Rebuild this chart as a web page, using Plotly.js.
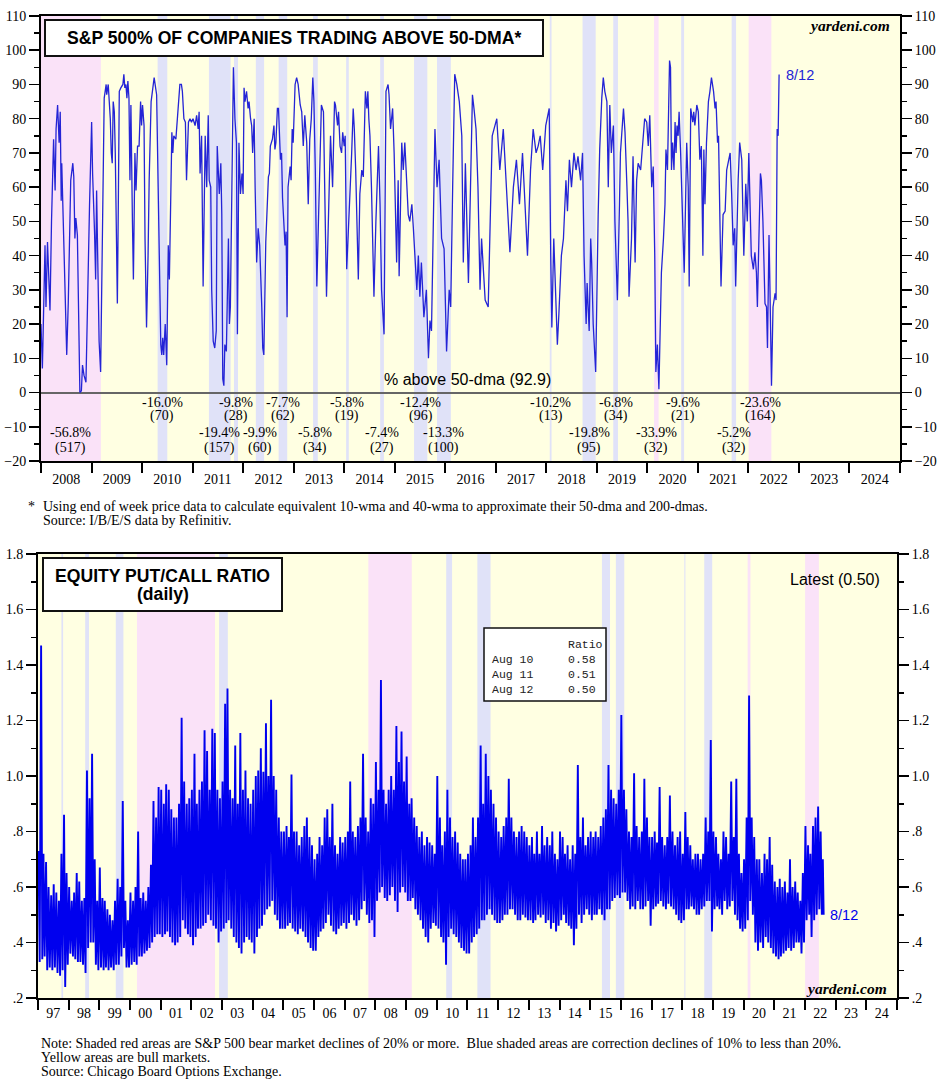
<!DOCTYPE html>
<html><head><meta charset="utf-8">
<script src="https://cdn.plot.ly/plotly-3.0.1.min.js"></script>
<style>html,body{margin:0;padding:0;background:#fff}#chart{width:948px;height:1083px}</style>
</head><body><div id="chart"></div>
<script>
// ---------------- DATA: S&P 500 % of companies above 50-dma (weekly, decimal years) ----------------
const spxYear = [
2008.00,2008.03,2008.08,2008.10,2008.13,2008.18,2008.21,2008.25,2008.28,2008.30,2008.33,2008.36,2008.38,2008.40,2008.41,2008.43,2008.46,2008.49,2008.51,2008.54,2008.57,2008.59,2008.63,2008.65,2008.67,2008.69,2008.72,2008.75,2008.77,2008.80,2008.82,2008.85,2008.89,2008.92,2008.94,2008.96,
2009.00,2009.02,2009.06,2009.08,2009.10,2009.12,2009.15,2009.18,2009.21,2009.23,2009.25,2009.29,2009.30,2009.33,2009.35,2009.37,2009.39,2009.41,2009.43,2009.45,2009.47,2009.50,2009.51,2009.53,2009.55,2009.58,2009.62,2009.64,2009.66,2009.68,2009.70,2009.72,2009.74,2009.76,2009.78,2009.81,2009.83,2009.86,2009.88,2009.91,2009.94,2009.97,2009.99,
2010.01,2010.04,2010.06,2010.09,2010.12,2010.14,2010.18,2010.21,2010.24,2010.26,2010.29,2010.32,2010.34,2010.37,2010.39,2010.41,2010.43,2010.46,2010.49,2010.52,2010.54,2010.57,2010.59,2010.61,2010.63,2010.67,2010.70,2010.72,2010.75,2010.78,2010.80,2010.83,2010.86,2010.88,2010.92,2010.95,2010.98,
2011.01,2011.05,2011.08,2011.11,2011.13,2011.15,2011.18,2011.21,2011.25,2011.28,2011.31,2011.33,2011.36,2011.38,2011.41,2011.44,2011.47,2011.49,2011.53,2011.56,2011.58,2011.60,2011.62,2011.64,2011.67,2011.71,2011.73,2011.75,2011.78,2011.81,2011.84,2011.87,2011.89,2011.92,2011.95,2011.98,
2012.00,2012.02,2012.04,2012.07,2012.10,2012.12,2012.15,2012.17,2012.19,2012.22,2012.24,2012.27,2012.30,2012.33,2012.37,2012.39,2012.41,2012.43,2012.45,2012.50,2012.52,2012.54,2012.58,2012.61,2012.63,2012.65,2012.68,2012.70,2012.72,2012.74,2012.76,2012.78,2012.83,2012.85,2012.87,2012.89,2012.93,2012.95,2012.97,2012.99,
2013.03,2013.06,2013.09,2013.13,2013.16,2013.19,2013.22,2013.24,2013.26,2013.29,2013.32,2013.35,2013.38,2013.40,2013.43,2013.46,2013.51,2013.55,2013.59,2013.61,2013.65,2013.71,2013.73,2013.77,2013.81,2013.83,2013.87,2013.89,2013.92,2013.95,2013.97,
2014.00,2014.02,2014.05,2014.12,2014.15,2014.18,2014.20,2014.23,2014.28,2014.31,2014.35,2014.38,2014.42,2014.45,2014.47,2014.49,2014.51,2014.54,2014.59,2014.63,2014.68,2014.71,2014.74,2014.79,2014.83,2014.87,2014.89,2014.92,2014.96,2014.99,
2015.04,2015.07,2015.09,2015.14,2015.17,2015.20,2015.24,2015.27,2015.30,2015.34,2015.37,2015.40,2015.44,2015.47,2015.50,2015.53,2015.58,2015.63,2015.67,2015.70,2015.73,2015.80,2015.84,2015.88,2015.93,2015.98,
2016.03,2016.08,2016.11,2016.15,2016.19,2016.23,2016.28,2016.33,2016.36,2016.40,2016.46,2016.50,2016.54,2016.57,2016.61,2016.65,2016.69,2016.72,2016.79,2016.85,2016.90,2016.93,
2017.02,2017.08,2017.15,2017.22,2017.28,2017.35,2017.41,2017.47,2017.53,2017.58,2017.63,2017.69,2017.74,2017.80,2017.84,2017.88,2017.93,2017.99,
2018.06,2018.09,2018.11,2018.15,2018.19,2018.22,2018.25,2018.30,2018.34,2018.39,2018.42,2018.46,2018.50,2018.55,2018.59,2018.63,2018.68,2018.72,2018.75,2018.79,2018.81,2018.85,2018.88,2018.90,2018.93,2018.96,2018.98,
2019.03,2019.06,2019.10,2019.13,2019.16,2019.20,2019.23,2019.26,2019.29,2019.33,2019.36,2019.41,2019.45,2019.47,2019.53,2019.56,2019.60,2019.62,2019.64,2019.69,2019.72,2019.76,2019.79,2019.82,2019.87,2019.92,2019.95,2019.99,
2020.02,2020.05,2020.09,2020.12,2020.15,2020.17,2020.20,2020.23,2020.28,2020.32,2020.35,2020.37,2020.40,2020.44,2020.46,2020.48,2020.50,2020.53,2020.55,2020.57,2020.59,2020.61,2020.63,2020.66,2020.69,2020.73,2020.78,2020.81,2020.83,2020.86,2020.90,2020.92,2020.94,2020.98,
2021.01,2021.04,2021.07,2021.10,2021.12,2021.14,2021.17,2021.21,2021.24,2021.27,2021.31,2021.34,2021.36,2021.39,2021.41,2021.43,2021.46,2021.50,2021.54,2021.57,2021.60,2021.64,2021.67,2021.70,2021.73,2021.75,2021.80,2021.83,2021.87,2021.91,2021.95,2021.98,
2022.01,2022.03,2022.06,2022.10,2022.13,2022.16,2022.18,2022.21,2022.24,2022.26,2022.29,2022.33,2022.36,2022.38,2022.41,2022.43,2022.46,2022.49,2022.53,2022.55,2022.57,2022.59,2022.61
];
const spxPct = [
20,7,43,25,44,24,50,74,59,77,84,73,82,56,67,56,45,20,11,26,44,62,67,63,45,51,46,20,0,0.5,8,5,3,25,48,55,
79,64,47,33,59,45,15,6,35,60,86,90,87,90,85,80,70,67,85,82,70,45,26,55,88,89,90,93,89,90,86,91,86,62,84,50,33,70,59,72,72,85,78,
84,78,45,19,40,62,85,88,92,90,87,60,35,14,11,16,11,20,8,43,33,68,76,70,75,74,80,86,90,90,88,80,79,62,79,80,79,
80,78,81,77,82,64,75,31,75,60,81,62,60,30,15,13,18,72,58,67,52,4,2,14,12,45,20,25,60,95,80,73,17,73,58,64,
58,89,85,88,83,85,80,78,70,80,60,38,48,43,25,13,11,25,44,63,64,72,74,78,71,73,83,83,73,68,70,57,43,47,22,60,66,62,77,73,
90,92,90,84,82,72,81,78,73,55,74,80,92,85,65,31,60,84,82,62,28,64,75,60,85,84,78,82,72,70,76,
72,75,36,58,70,83,77,65,33,58,65,63,88,83,88,80,75,60,28,50,72,55,30,17,88,90,87,77,83,70,
38,62,34,73,65,73,60,52,50,55,48,40,30,40,28,38,22,30,10,21,18,77,60,68,45,42,
12,30,25,60,93,90,85,75,38,67,32,60,87,83,77,60,30,45,27,25,60,75,
80,65,77,55,41,60,68,55,70,55,40,65,77,70,72,75,65,78,
83,40,19,45,30,14,23,40,45,62,53,68,60,70,65,69,62,70,40,20,32,18,45,38,20,10,6,
52,71,86,92,88,85,60,84,70,78,50,27,55,70,83,76,60,50,28,45,69,38,62,67,65,73,80,79,
72,81,60,66,40,6,14,1,35,45,55,71,65,97,95,65,73,65,79,70,78,75,82,70,55,35,73,60,31,83,79,82,78,84,
82,68,72,40,71,55,73,85,88,92,88,83,85,73,75,55,31,52,53,65,67,70,58,43,48,31,62,73,68,40,61,50,
70,60,40,36,41,35,25,45,64,62,50,26,25,13,46,30,2,25,29,27,77,75,92.9
];
const spxLatestLabel = '8/12';

// Market episodes shown in the top panel (start, end, kind, decline, trading days)
const topBandStart = ['2007-10-09','2010-04-23','2011-04-29','2011-10-27','2012-04-02','2012-09-14','2013-05-21','2014-01-15','2014-09-18','2015-05-21','2015-11-03','2018-01-26','2018-09-20','2019-04-30','2020-02-19','2020-09-02','2021-09-02','2022-01-03'];
const topBandEnd   = ['2009-03-09','2010-07-02','2011-10-03','2011-11-25','2012-06-01','2012-11-15','2013-06-24','2014-02-03','2014-10-15','2015-08-25','2016-02-11','2018-02-08','2018-12-24','2019-06-03','2020-03-23','2020-09-23','2021-10-04','2022-06-16'];
const topBandKind  = ['bear','corr','corr','corr','corr','corr','corr','corr','corr','corr','corr','corr','corr','corr','bear','corr','corr','bear'];
const topBandDecline = ['-56.8%','-16.0%','-19.4%','-9.8%','-9.9%','-7.7%','-5.8%','-5.8%','-7.4%','-12.4%','-13.3%','-10.2%','-19.8%','-6.8%','-33.9%','-9.6%','-5.2%','-23.6%'];
const topBandDays  = [517,70,157,28,60,62,34,19,27,96,100,13,95,34,32,21,32,164];

// ---------------- DATA: Equity put/call ratio (daily) read as monthly high / low, Jan 1997 - Aug 2022 ----------------
const pcFirstYear = 1997;
const pcHigh = [
.73,1.47,.72,.69,.60,.57,.61,.58,.55,.72,.86,.65,
.60,.55,.58,.65,.62,.55,.56,1.02,.92,1.08,.70,.55,
.67,.56,.55,.52,.50,.48,.55,.63,.60,.91,.55,.48,
.58,.55,.60,.80,.56,.58,.55,.60,.68,.91,.85,.96,
.95,.90,.97,.95,.88,.85,.85,.90,1.21,.98,.90,.92,
.95,1.08,.90,.95,.98,1.165,1.09,.95,1.17,1.155,.95,.92,
.98,1.26,1.315,.95,.92,1.11,.90,1.155,.95,1.02,.92,.90,
.95,1.00,1.02,1.10,1.015,1.19,1.00,1.275,1.00,.95,.85,.80,
.80,.82,.78,1.005,.80,.80,.75,.78,.82,.85,.78,.75,
.70,.72,.78,.75,.85,.88,.78,.90,.75,.72,.78,.76,
.78,.80,.98,.80,.78,.82,.85,1.08,.85,.80,.92,.90,
1.05,.95,1.346,.95,.90,.95,1.00,.95,1.18,1.05,1.16,.98,
1.07,.90,.92,.85,.82,.78,.80,.75,.78,.76,.75,.72,
1.00,.85,.75,.80,.95,.85,.78,.80,.76,.72,.70,.70,
.72,.75,.85,.78,.85,1.11,.90,1.08,1.00,.95,.90,.85,
.80,.78,.82,.85,.99,.85,.80,.78,.80,.82,.80,.78,
.75,.78,.72,.80,.72,.82,.75,.78,.75,.80,.72,.70,
.80,.78,.72,.75,.70,.75,.72,1.04,.78,.85,.75,.78,
.80,.78,.80,.78,.82,.85,.88,1.04,.95,.92,.90,.95,
1.22,.95,.88,.80,.78,1.01,.82,.78,.80,.99,.85,.78,
.78,.80,.76,.96,.78,.75,.78,.93,.80,.75,.78,.80,
.72,.87,.78,.75,.70,.72,.72,.70,.72,.85,.80,1.13,
.80,.78,.72,.70,.80,.78,.72,.98,.78,.99,.72,.65,
.70,.85,1.29,.85,.78,.70,.70,.65,.72,.70,.78,.68,
.62,.60,.63,.60,.62,.58,.70,.60,.62,.58,.55,.65,
.82,.75,.72,.82,.85,.89,.80,.70
];
const pcLow = [
.33,.34,.35,.30,.31,.30,.31,.29,.28,.30,.24,.32,
.36,.35,.34,.33,.33,.32,.29,.38,.40,.40,.32,.30,
.31,.30,.31,.30,.31,.30,.32,.32,.35,.38,.31,.31,
.32,.33,.32,.35,.35,.36,.37,.38,.40,.42,.43,.43,
.42,.43,.44,.42,.40,.39,.40,.42,.48,.45,.43,.42,
.39,.42,.45,.45,.46,.47,.50,.48,.46,.45,.40,.44,
.45,.47,.48,.45,.42,.40,.38,.36,.40,.42,.41,.40,
.36,.42,.45,.46,.50,.52,.53,.55,.50,.48,.45,.45,
.45,.46,.47,.45,.44,.43,.45,.44,.42,.40,.38,.37,
.37,.42,.44,.45,.47,.50,.46,.44,.43,.45,.46,.47,
.45,.47,.50,.48,.46,.48,.52,.55,.50,.47,.48,.42,
.55,.58,.60,.56,.55,.57,.60,.55,.51,.58,.60,.58,
.55,.55,.56,.52,.50,.48,.45,.42,.40,.45,.47,.46,
.45,.42,.40,.32,.42,.45,.43,.42,.40,.38,.37,.36,
.36,.40,.42,.43,.45,.48,.48,.50,.52,.50,.48,.47,
.47,.48,.50,.50,.52,.52,.50,.48,.48,.50,.49,.48,
.48,.47,.48,.50,.49,.50,.47,.48,.45,.47,.44,.46,
.48,.50,.47,.46,.45,.39,.45,.50,.47,.50,.52,.50,
.48,.50,.50,.52,.50,.48,.52,.52,.55,.56,.57,.56,
.58,.58,.55,.52,.53,.52,.55,.52,.52,.53,.55,.46,
.52,.53,.54,.55,.53,.52,.54,.53,.52,.50,.48,.47,
.48,.52,.52,.53,.52,.50,.50,.52,.53,.55,.55,.44,
.52,.53,.52,.50,.55,.52,.53,.55,.50,.48,.45,.44,
.45,.48,.55,.50,.40,.37,.40,.38,.42,.40,.38,.36,
.35,.34,.35,.36,.37,.38,.37,.38,.40,.40,.36,.40,
.48,.50,.42,.48,.50,.52,.50,.50
];
const pcLatestDates  = ['2022-08-10','2022-08-11','2022-08-12'];
const pcLatestLabels = ['Aug 10','Aug 11','Aug 12'];
const pcLatestVals   = [0.58, 0.51, 0.50];
const pcLatestTag    = '8/12';

// Market episodes shown in the bottom panel
const botBandStart = ['1997-10-07','1998-07-17','1999-07-16','2000-03-24','2002-11-27','2007-10-09','2010-04-23','2011-04-29','2015-05-21','2015-11-03','2018-01-26','2018-09-20','2020-02-19','2022-01-03'];
const botBandEnd   = ['1997-10-27','1998-08-31','1999-10-15','2002-10-09','2003-03-11','2009-03-09','2010-07-02','2011-10-03','2015-08-25','2016-02-11','2018-02-08','2018-12-24','2020-03-23','2022-06-16'];
const botBandKind  = ['corr','corr','corr','bear','corr','bear','corr','corr','corr','corr','corr','corr','bear','bear'];

// ---------------- BUILD ----------------
const W = 948, H = 1083;
const SERIF = 'Liberation Serif, "Times New Roman", serif';
const SANS = 'Liberation Sans, Arial, sans-serif';
const MONO = 'Liberation Mono, "Courier New", monospace';
const YELLOW = 'rgb(255,255,226)', PINK = 'rgb(250,226,248)', BLUE = 'rgb(224,226,248)';
const TOPLINE = 'rgb(36,36,214)', BOTLINE = 'rgb(0,0,238)';
const px = x => x / W, py = y => 1 - y / H;

function decYearToDate(y) {
  const yr = Math.floor(y);
  const s = Date.UTC(yr, 0, 1), e = Date.UTC(yr + 1, 0, 1);
  return new Date(s + (y - yr) * (e - s)).toISOString().slice(0, 10);
}
function midDate(a, b) {
  const t = (Date.parse(a) + Date.parse(b)) / 2;
  return new Date(t).toISOString().slice(0, 10);
}
const pad = n => (n < 10 ? '0' : '') + n;

// top series
const spxX = spxYear.map(decYearToDate);

// bottom series: monthly high/low zigzag + final daily points
const pcX = [], pcY = [];
for (let m = 0; m < pcHigh.length; m++) {
  const yr = pcFirstYear + Math.floor(m / 12), mo = m % 12 + 1;
  const last = m === pcHigh.length - 1;
  pcX.push(yr + '-' + pad(mo) + '-' + (last ? '02' : '07')); pcY.push(pcHigh[m]);
  pcX.push(yr + '-' + pad(mo) + '-' + (last ? '05' : '21')); pcY.push(pcLow[m]);
}
pcLatestDates.forEach((d, i) => { pcX.push(d); pcY.push(pcLatestVals[i]); });

const traces = [
  {x: spxX, y: spxPct, xaxis: 'x', yaxis: 'y', type: 'scatter', mode: 'lines',
   line: {color: TOPLINE, width: 1.3}, hoverinfo: 'skip'},
  {x: [null], y: [null], xaxis: 'x', yaxis: 'y2', type: 'scatter', mode: 'lines', hoverinfo: 'skip'},
  {x: pcX, y: pcY, xaxis: 'x2', yaxis: 'y3', type: 'scatter', mode: 'lines',
   line: {color: BOTLINE, width: 1.9}, hoverinfo: 'skip'},
  {x: [null], y: [null], xaxis: 'x2', yaxis: 'y4', type: 'scatter', mode: 'lines', hoverinfo: 'skip'}
];

const shapes = [];
const TOP_START = '2008-01-01';
topBandStart.forEach((s, i) => {
  shapes.push({type: 'rect', xref: 'x', yref: 'y domain', x0: s < TOP_START ? TOP_START : s, x1: topBandEnd[i], y0: 0, y1: 1,
    fillcolor: topBandKind[i] === 'bear' ? PINK : BLUE, line: {width: 0}, layer: 'below'});
});
botBandStart.forEach((s, i) => {
  shapes.push({type: 'rect', xref: 'x2', yref: 'y3 domain', x0: s, x1: botBandEnd[i], y0: 0, y1: 1,
    fillcolor: botBandKind[i] === 'bear' ? PINK : BLUE, line: {width: 0}, layer: 'below'});
});
// title boxes & table box
const box = (x0, y0, x1, y1, w) => ({type: 'rect', xref: 'paper', yref: 'paper', x0: px(x0), x1: px(x1), y0: py(y1), y1: py(y0),
  fillcolor: '#fff', line: {color: '#111', width: w}, layer: 'above'});
shapes.push(box(45, 20, 543, 56, 2));
shapes.push(box(43, 558, 282, 611, 2));
shapes.push(box(484, 628, 606, 701, 1.5));

const ann = [];
function txt(text, x, y, o) {
  o = o || {};
  ann.push({xref: o.xref || 'paper', yref: 'paper', x: o.xref ? x : px(x), y: py(y), text: text, showarrow: false,
    xanchor: o.xanchor || 'center', yanchor: o.yanchor || 'middle', align: o.align || 'left',
    font: {family: o.family || SERIF, size: o.size || 14, color: o.color || '#000'}});
}
txt('<b>S&amp;P 500% OF COMPANIES TRADING ABOVE 50-DMA*</b>', 294, 38.5, {family: SANS, size: 17.6});
txt('<b><i>yardeni.com</i></b>', 892, 26, {xanchor: 'right', size: 15.5});
txt(spxLatestLabel, 784, 75, {xanchor: 'left', family: SANS, size: 14.5, color: TOPLINE});
txt('% above 50-dma (' + spxPct[spxPct.length - 1].toFixed(1) + ')', 467, 379, {family: SANS, size: 16});
topBandStart.forEach((s, i) => {
  const mid = midDate(s < TOP_START ? TOP_START : s, topBandEnd[i]);
  const upper = i % 2 === 1;
  txt(topBandDecline[i], mid, upper ? 402 : 433, {xref: 'x'});
  txt('(' + topBandDays[i] + ')', mid, upper ? 416 : 448, {xref: 'x'});
});
txt('*', 26, 507, {xanchor: 'left', size: 14});
txt('Using end of week price data to calculate equivalent 10-wma and 40-wma to approximate their 50-dma and 200-dmas.', 41, 507, {xanchor: 'left', size: 14});
txt('Source: I/B/E/S data by Refinitiv.', 41, 520, {xanchor: 'left', size: 14});

txt('<b>EQUITY PUT/CALL RATIO</b>', 162.5, 576, {family: SANS, size: 17.6});
txt('<b>(daily)</b>', 162.5, 594, {family: SANS, size: 17.6});
txt('Latest (' + pcLatestVals[pcLatestVals.length - 1].toFixed(2) + ')', 882, 579, {xanchor: 'right', family: SANS, size: 16});
txt(pcLatestLabels.join('<br>'), 490, 651, {xanchor: 'left', yanchor: 'top', family: MONO, size: 11.5, color: '#222'});
txt(['Ratio'].concat(pcLatestVals.map(v => v.toFixed(2))).join('<br>'), 566, 636, {xanchor: 'left', yanchor: 'top', family: MONO, size: 11.5, color: '#222'});
txt(pcLatestTag, 828, 915, {xanchor: 'left', family: SANS, size: 14.5, color: BOTLINE});
txt('<b><i>yardeni.com</i></b>', 889, 988, {xanchor: 'right', size: 15.5});
txt('Note: Shaded red areas are S&amp;P 500 bear market declines of 20% or more.  Blue shaded areas are correction declines of 10% to less than 20%.', 39, 1043, {xanchor: 'left', size: 14});
txt('Yellow areas are bull markets.', 39, 1057, {xanchor: 'left', size: 14});
txt('Source: Chicago Board Options Exchange.', 39, 1071, {xanchor: 'left', size: 14});

const tickFont = {family: SERIF, size: 14, color: '#000'};
const base = {showgrid: false, zeroline: false, showline: true, linecolor: '#000', linewidth: 2, ticks: 'outside',
  tickcolor: '#000', tickfont: tickFont, automargin: false, fixedrange: true};

const topDom = [py(461), py(16)], botDom = [py(998), py(554)];
const pcTickVals = [], pcTickText = [];
for (let v = 2; v <= 18; v += 2) { pcTickVals.push(v / 10); pcTickText.push(v < 10 ? '.' + v : (v / 10).toFixed(1)); }

const layout = {
  width: W, height: H, margin: {l: 0, r: 0, t: 0, b: 0}, paper_bgcolor: '#fff', plot_bgcolor: YELLOW, showlegend: false,
  xaxis: Object.assign({}, base, {type: 'date', domain: [px(41), px(900)], anchor: 'y', range: ['2008-01-01', '2025-01-01'],
    tick0: '2008-01-01', dtick: 'M12', tickformat: '%Y', ticklabelmode: 'period', ticklen: 10, tickwidth: 2, mirror: true, ticklabelstandoff: -6}),
  yaxis: Object.assign({}, base, {domain: topDom, anchor: 'x', range: [-20, 110], tick0: 0, dtick: 10, ticklen: 10, tickwidth: 1.5, mirror: true,
    zeroline: true, zerolinecolor: '#666', zerolinewidth: 2,
    minor: {dtick: 5, tick0: 0, ticklen: 5, tickwidth: 1.5, ticks: 'outside', tickcolor: '#000'}}),
  yaxis2: Object.assign({}, base, {overlaying: 'y', side: 'right', anchor: 'x', range: [-20, 110], tick0: 0, dtick: 10, ticklen: 10, tickwidth: 1.5,
    minor: {dtick: 5, tick0: 0, ticklen: 5, tickwidth: 1.5, ticks: 'outside', tickcolor: '#000'}}),
  xaxis2: Object.assign({}, base, {type: 'date', domain: [px(38), px(897)], anchor: 'y3', range: ['1997-01-01', '2025-01-01'],
    tick0: '1997-01-01', dtick: 'M12', tickformat: '%y', ticklabelmode: 'period', ticklen: 10, tickwidth: 2, mirror: true, ticklabelstandoff: -9}),
  yaxis3: Object.assign({}, base, {domain: botDom, anchor: 'x2', range: [0.2, 1.8], tickmode: 'array', tickvals: pcTickVals, ticktext: pcTickText,
    ticklen: 10, tickwidth: 1.5, mirror: true,
    minor: {tick0: 0.2, dtick: 0.1, ticklen: 5, tickwidth: 1.5, ticks: 'outside', tickcolor: '#000'}}),
  yaxis4: Object.assign({}, base, {overlaying: 'y3', side: 'right', anchor: 'x2', range: [0.2, 1.8], tickmode: 'array', tickvals: pcTickVals, ticktext: pcTickText,
    ticklen: 10, tickwidth: 1.5,
    minor: {tick0: 0.2, dtick: 0.1, ticklen: 5, tickwidth: 1.5, ticks: 'outside', tickcolor: '#000'}}),
  shapes: shapes, annotations: ann
};

Plotly.newPlot('chart', traces, layout, {staticPlot: true, displayModeBar: false});
</script></body></html>
